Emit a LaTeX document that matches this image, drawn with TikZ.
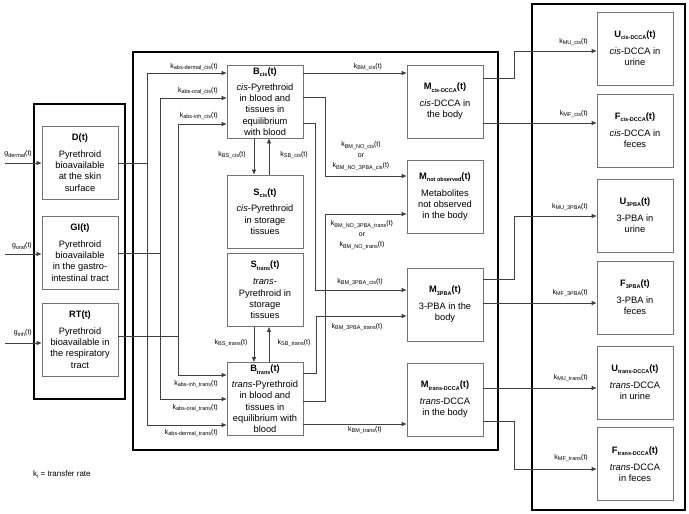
\documentclass[tikz,border=0pt]{standalone}
\usepackage{fontspec}
\setmainfont{Liberation Sans}
\usetikzlibrary{arrows.meta}

\newcommand{\lsub}[1]{\raisebox{-0.45ex}{\fontsize{5.5}{6}\selectfont #1}}
\newcommand{\krate}[1]{k\lsub{#1}(t)}

\tikzstyle{frame}=[draw, line width=1.6pt]
\tikzstyle{comp}=[draw=black!55, line width=0.6pt, minimum width=76pt, minimum height=73pt, inner sep=1pt, align=center, font=\fontsize{9.3}{11.3}\selectfont]
\tikzstyle{flow}=[draw=black!75, line width=0.6pt, -{Latex[length=5pt,width=4.5pt]}]
\tikzstyle{wire}=[draw=black!75, line width=0.6pt]
\tikzstyle{rate}=[inner sep=0pt, align=center, font=\fontsize{7}{11}\selectfont]

\begin{document}
\begin{tikzpicture}[x=1pt, y=-1pt]
    \useasboundingbox (0,0) rectangle (689,514);
    % group frames
    \draw[frame] (34,104) rectangle (125,399);
    \draw[frame] (133,52) rectangle (498,450);
    \draw[frame] (532,4) rectangle (685,510);

    % uptake compartments
    \node[comp] (D) at (80,162.5) {\textbf{D(t)}\\[5.5pt]Pyrethroid\\bioavailable\\at the skin\\surface};
    \node[comp] (GI) at (80,252.5) {\textbf{GI(t)}\\[5.5pt]Pyrethroid\\bioavailable\\in the gastro-\\intestinal tract};
    \node[comp] (RT) at (80,339.5) {\textbf{RT(t)}\\[5.5pt]Pyrethroid\\bioavailable in\\the respiratory\\tract};

    % body compartments
    \node[comp] (Bcis) at (265,101.5) {\textbf{B\lsub{cis}(t)}\\[4.5pt]\textit{cis}-Pyrethroid\\in blood and\\tissues in\\equilibrium\\with blood};
    \node[comp] (Scis) at (265,211.5) {\textbf{S\lsub{cis}(t)}\\[5.5pt]\textit{cis}-Pyrethroid\\in storage\\tissues};
    \node[comp] (Strans) at (265,290) {\textbf{S\lsub{trans}(t)}\\[5.5pt]\textit{trans}-\\Pyrethroid in\\storage\\tissues};
    \node[comp] (Btrans) at (265,399) {\textbf{B\lsub{trans}(t)}\\[4.5pt]\textit{trans}-Pyrethroid\\in blood and\\tissues in\\equilibrium with\\blood};

    % metabolites in the body
    \node[comp] (Mcis) at (445,101.5) {\textbf{M\lsub{cis-DCCA}(t)}\\[5.5pt]\textit{cis}-DCCA in\\the body};
    \node[comp] (Mno) at (445,196.5) {\textbf{M\lsub{not observed}(t)}\\[5.5pt]Metabolites\\not observed\\in the body};
    \node[comp] (M3) at (445,304.5) {\textbf{M\lsub{3PBA}(t)}\\[5.5pt]3-PBA in the\\body};
    \node[comp] (Mtrans) at (445,399.5) {\textbf{M\lsub{trans-DCCA}(t)}\\[5.5pt]\textit{trans}-DCCA\\in the body};

    % excreted
    \node[comp] (Ucis) at (635,48.5) {\textbf{U\lsub{cis-DCCA}(t)}\\[5.5pt]\textit{cis}-DCCA in\\urine};
    \node[comp] (Fcis) at (635,130.5) {\textbf{F\lsub{cis-DCCA}(t)}\\[5.5pt]\textit{cis}-DCCA in\\feces};
    \node[comp] (U3) at (635,215.5) {\textbf{U\lsub{3PBA}(t)}\\[5.5pt]3-PBA in\\urine};
    \node[comp] (F3) at (635,297.5) {\textbf{F\lsub{3PBA}(t)}\\[5.5pt]3-PBA in\\feces};
    \node[comp] (Utrans) at (635,382.5) {\textbf{U\lsub{trans-DCCA}(t)}\\[5.5pt]\textit{trans}-DCCA\\in urine};
    \node[comp] (Ftrans) at (635,464) {\textbf{F\lsub{trans-DCCA}(t)}\\[5.5pt]\textit{trans}-DCCA\\in feces};

    % doses
    \coordinate (gD) at (5,163);
    \coordinate (gGI) at (5,254);
    \coordinate (gRT) at (5,343);
    \draw[flow] (gD) -- (D.west |- gD);
    \draw[flow] (gGI) -- (GI.west |- gGI);
    \draw[flow] (gRT) -- (RT.west |- gRT);
    \node[rate, anchor=east] (lgD) at (32,154) {g\lsub{dermal}(t)};
    \node[rate, anchor=east] (lgGI) at (32,246) {g\lsub{oral}(t)};
    \node[rate, anchor=east] (lgRT) at (32,333) {g\lsub{inh}(t)};

    % absorption
    \coordinate (jD) at (147,163);
    \coordinate (jGI) at (160,253);
    \coordinate (jRT) at (178,336);
    \path[wire] (D.east |- jD) -- (jD);
    \path[wire] (GI.east |- jGI) -- (jGI);
    \path[wire] (RT.east |- jRT) -- (jRT);
    \path[flow] (jD) |- (Bcis.west |- 0,73);
    \path[flow] (jGI) |- (Bcis.west |- 0,98);
    \path[flow] (jRT) |- (Bcis.west |- 0,124);
    \path[flow] (jRT) |- (Btrans.west |- 0,375);
    \path[flow] (jGI) |- (Btrans.west |- 0,399);
    \path[flow] (jD) |- (Btrans.west |- 0,425);
    \node[rate, anchor=east] (kadc) at (218,67) {\krate{abs-dermal\_cis}};
    \node[rate, anchor=east] (kaoc) at (218,91) {\krate{abs-oral\_cis}};
    \node[rate, anchor=east] (kaic) at (218,116) {\krate{abs-inh\_cis}};
    \node[rate, anchor=east] (kait) at (218,384) {\krate{abs-inh\_trans}};
    \node[rate, anchor=east] (kaot) at (218,408) {\krate{abs-oral\_trans}};
    \node[rate, anchor=east] (kadt) at (218,433) {\krate{abs-dermal\_trans}};

    % storage exchange
    \path[flow] (Bcis.south -| 254,0) -- (Scis.north -| 254,0);
    \path[flow] (Scis.north -| 269,0) -- (Bcis.south -| 269,0);
    \path[flow] (Strans.south -| 254,0) -- (Btrans.north -| 254,0);
    \path[flow] (Btrans.north -| 269,0) -- (Strans.south -| 269,0);
    \node[rate] (kbsc) at (232,155) {\krate{BS\_cis}};
    \node[rate] (ksbc) at (294,155) {\krate{SB\_cis}};
    \node[rate] (kbst) at (231,343) {\krate{BS\_trans}};
    \node[rate] (ksbt) at (294,343) {\krate{SB\_trans}};

    % metabolism
    \path[flow] (Bcis.east |- 0,73) -- (Mcis.west |- 0,73);
    \path[flow] (Bcis.east |- 0,97) -| (325,176) -- (Mno.west |- 0,176);
    \path[flow] (Bcis.east |- 0,123) -| (315,290) -- (M3.west |- 0,290);
    \path[flow] (Btrans.east |- 0,401) -| (325,214) -- (Mno.west |- 0,214);
    \path[flow] (Btrans.east |- 0,373) -| (316,316) -- (M3.west |- 0,316);
    \path[flow] (Btrans.east |- 0,424) -- (Mtrans.west |- 0,424);
    \node[rate] (kbmc) at (368,67) {\krate{BM\_cis}};
    \node[rate] (knoc) at (361,156) {\krate{BM\_NO\_cis}\\or\\[-1.5pt]\krate{BM\_NO\_3PBA\_cis}};
    \node[rate] (knot) at (362,235) {\krate{BM\_NO\_3PBA\_trans}\\or\\[-1.5pt]\krate{BM\_NO\_trans}};
    \node[rate] (k3c) at (360,282) {\krate{BM\_3PBA\_cis}};
    \node[rate] (k3t) at (357,327) {\krate{BM\_3PBA\_trans}};
    \node[rate] (kbmt) at (365,430) {\krate{BM\_trans}};

    % excretion
    \path[flow] (Mcis.east |- 0,78) -| (514,51) -- (Ucis.west |- 0,51);
    \path[flow] (Mcis.east |- 0,123) -- (Fcis.west |- 0,123);
    \path[flow] (M3.east |- 0,279) -| (514,216) -- (U3.west |- 0,216);
    \path[flow] (M3.east |- 0,303) -- (F3.west |- 0,303);
    \path[flow] (Mtrans.east |- 0,388) -- (Utrans.west |- 0,388);
    \path[flow] (Mtrans.east |- 0,421) -| (514,469) -- (Ftrans.west |- 0,469);
    \node[rate, anchor=east] (kmuc) at (588,42) {\krate{MU\_cis}};
    \node[rate, anchor=east] (kmfc) at (588,114) {\krate{MF\_cis}};
    \node[rate, anchor=east] (kmu3) at (588,207) {\krate{MU\_3PBA}};
    \node[rate, anchor=east] (kmf3) at (588,293) {\krate{MF\_3PBA}};
    \node[rate, anchor=east] (kmut) at (588,378) {\krate{MU\_trans}};
    \node[rate, anchor=east] (kmft) at (588,458) {\krate{MF\_trans}};

    \node[anchor=west, inner sep=0pt, font=\fontsize{8}{9}\selectfont] (note) at (33,475) {k\lsub{i} = transfer rate};
\end{tikzpicture}
\end{document}
